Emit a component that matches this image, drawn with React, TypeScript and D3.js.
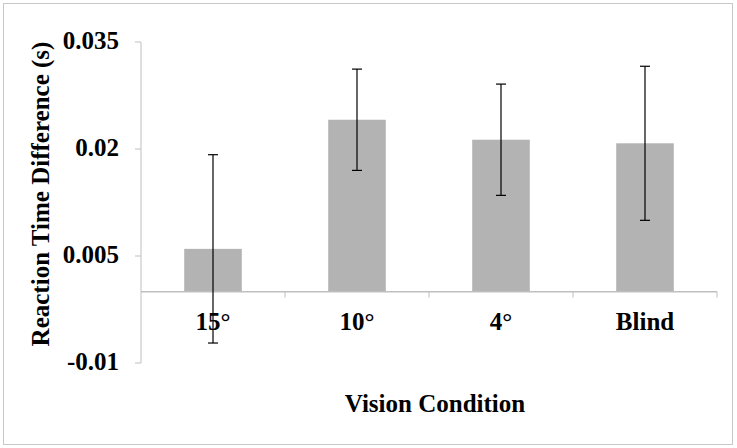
import * as d3 from "d3";

const categories = ["15°", "10°", "4°", "Blind"];
const means = [0.006, 0.0241, 0.0213, 0.0208];
const errors = [0.0132, 0.0071, 0.0078, 0.0108];
const yTicks = [-0.01, 0.005, 0.02, 0.035];

const W = 737;
const H = 448;
const textStyle = { fontFamily: "Liberation Serif", fontWeight: "bold" as const, fontSize: 25 };

export default function App() {
  const x = d3.scaleBand<string>().domain(categories).range([141, 717]).paddingInner(0.6).paddingOuter(0.3);
  const band = d3.scaleBand<string>().domain(categories).range([141, 717]);
  const y = d3.scaleLinear().domain([-0.01, 0.035]).range([363, 42]);
  const axisColor = "#bfbfbf";
  const y0 = y(0);

  return (
    <svg width={W} height={H} style={{ position: "absolute", left: 0, top: 0, background: "#fff" }}>
      <rect x={3.5} y={3.5} width={729} height={441} fill="white" stroke="#c8c8c8" />

      {/* y axis */}
      <line x1={141} x2={141} y1={y(0.035)} y2={y(-0.01)} stroke={axisColor} />
      {yTicks.map((t) => (
        <g key={t}>
          <line x1={135} x2={141} y1={y(t)} y2={y(t)} stroke={axisColor} />
          <text x={119} y={y(t) + 7} textAnchor="end" style={textStyle}>
            {t}
          </text>
        </g>
      ))}

      {/* bars */}
      {categories.map((c, i) => (
        <rect key={c} x={x(c)} y={y(means[i])} width={x.bandwidth()} height={y0 - y(means[i])} fill="#b3b3b3" />
      ))}

      {/* x axis */}
      <line x1={141} x2={717} y1={y0} y2={y0} stroke={axisColor} strokeWidth={1.5} />
      {[...categories.map((c) => band(c)!), 717].slice(1).map((t) => (
        <line key={t} x1={t} x2={t} y1={y0} y2={y0 + 6} stroke={axisColor} />
      ))}
      {categories.map((c) => (
        <text key={c} x={band(c)! + band.bandwidth() / 2} y={330} textAnchor="middle" style={textStyle}>
          {c}
        </text>
      ))}

      {/* error bars */}
      {categories.map((c, i) => {
        const cx = band(c)! + band.bandwidth() / 2;
        const top = y(means[i] + errors[i]);
        const bot = y(means[i] - errors[i]);
        return (
          <g key={c} stroke="#000" strokeWidth={1.2}>
            <line x1={cx} x2={cx} y1={top} y2={bot} />
            <line x1={cx - 5} x2={cx + 5} y1={top} y2={top} />
            <line x1={cx - 5} x2={cx + 5} y1={bot} y2={bot} />
          </g>
        );
      })}

      <text x={435} y={412} textAnchor="middle" style={textStyle}>
        Vision Condition
      </text>
      <text transform={`translate(49, 194) rotate(-90)`} textAnchor="middle" style={textStyle}>
        Reaction Time Difference (s)
      </text>
    </svg>
  );
}
